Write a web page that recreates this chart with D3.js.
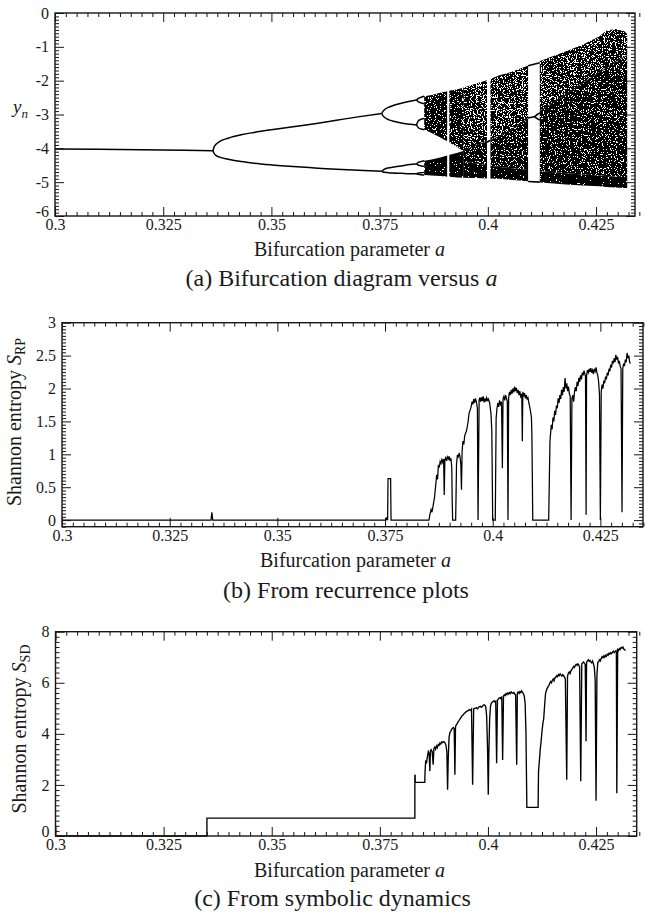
<!DOCTYPE html>
<html><head><meta charset="utf-8">
<script src="https://cdn.jsdelivr.net/npm/d3@7"></script>
<style>
body{margin:0;background:#fff;}
svg text{font-family:"Liberation Serif","Times New Roman",serif;fill:#1a1a1a;}
</style></head><body>
<svg id="chart" width="645" height="913"></svg>
<script>
// ---------------- DATA ----------------
const xTicks = [0.3, 0.325, 0.35, 0.375, 0.4, 0.425];
const xTickLabels = ["0.3", "0.325", "0.35", "0.375", "0.4", "0.425"];
const yTicksA = [0, -1, -2, -3, -4, -5, -6];
const yTickLabelsA = ["0", "-1", "-2", "-3", "-4", "-5", "-6"];
const yTicksB = [0, 0.5, 1, 1.5, 2, 2.5, 3];
const yTickLabelsB = ["0", "0.5", "1", "1.5", "2", "2.5", "3"];
const yTicksC = [0, 2, 4, 6, 8];
const yTickLabelsC = ["0", "2", "4", "6", "8"];

// (a) bifurcation diagram: periodic branches [a, y]
const p1Branch = [[0.300,-4.02],[0.310,-4.03],[0.320,-4.04],[0.330,-4.055],[0.3365,-4.07]];
const p2Upper = [[0.3365,-4.07],[0.3368,-3.95],[0.3372,-3.88],[0.338,-3.80],[0.340,-3.70],[0.343,-3.60],[0.346,-3.53],[0.350,-3.45],[0.355,-3.36],[0.360,-3.27],[0.365,-3.17],[0.370,-3.07],[0.3755,-2.97]];
const p2Lower = [[0.3365,-4.07],[0.3368,-4.16],[0.3372,-4.21],[0.338,-4.26],[0.340,-4.32],[0.343,-4.39],[0.346,-4.44],[0.350,-4.49],[0.355,-4.54],[0.360,-4.58],[0.365,-4.62],[0.370,-4.65],[0.3755,-4.68]];
const p4Branches = [
  [[0.3755,-2.97],[0.3758,-2.90],[0.3762,-2.85],[0.377,-2.79],[0.378,-2.74],[0.380,-2.67],[0.382,-2.61],[0.3835,-2.57]],
  [[0.3755,-2.97],[0.3758,-3.04],[0.3762,-3.09],[0.377,-3.15],[0.378,-3.19],[0.380,-3.25],[0.382,-3.29],[0.3835,-3.31]],
  [[0.3755,-4.68],[0.3758,-4.64],[0.3762,-4.61],[0.377,-4.58],[0.378,-4.56],[0.380,-4.52],[0.382,-4.48],[0.3835,-4.46]],
  [[0.3755,-4.68],[0.3758,-4.70],[0.3762,-4.71],[0.377,-4.72],[0.378,-4.73],[0.380,-4.74],[0.382,-4.75],[0.3835,-4.75]]
];
const p8Branches = [
  [[0.3835,-2.57],[0.3840,-2.52],[0.3846,-2.49],[0.3853,-2.46]],
  [[0.3835,-2.57],[0.3840,-2.63],[0.3846,-2.66],[0.3853,-2.68]],
  [[0.3835,-3.31],[0.3840,-3.18],[0.3846,-3.14],[0.3853,-3.12]],
  [[0.3835,-3.31],[0.3840,-3.40],[0.3846,-3.43],[0.3853,-3.45]],
  [[0.3835,-4.46],[0.3840,-4.41],[0.3846,-4.39],[0.3853,-4.37]],
  [[0.3835,-4.46],[0.3840,-4.50],[0.3846,-4.52],[0.3853,-4.53]],
  [[0.3835,-4.75],[0.3840,-4.73],[0.3846,-4.72],[0.3853,-4.71]],
  [[0.3835,-4.75],[0.3840,-4.77],[0.3846,-4.78],[0.3853,-4.79]]
];
// (a) two chaotic bands before merging
const bandA   = [0.3853, 0.3870, 0.3890, 0.3910, 0.3930, 0.3943];
const upTop   = [-2.46, -2.42, -2.36, -2.30, -2.25, -2.21];
const upBot   = [-3.45, -3.55, -3.68, -3.82, -3.97, -4.08];
const loTop   = [-4.37, -4.33, -4.27, -4.20, -4.13, -4.08];
const loBot   = [-4.79, -4.80, -4.82, -4.84, -4.86, -4.87];
// (a) merged chaotic band
const mergeA  = [0.3943, 0.3975, 0.4000, 0.4027, 0.4050, 0.4080, 0.4104, 0.4145, 0.4181, 0.4220, 0.4258, 0.4274, 0.4295, 0.4315, 0.4322];
const mTop    = [-2.21, -2.08, -1.98, -1.84, -1.76, -1.62, -1.50, -1.30, -1.13, -0.93, -0.69, -0.52, -0.47, -0.53, -0.62];
const mDiag   = [-4.08, -3.90, -3.78, -3.65, -3.48, -3.24, -3.02, -2.70, -2.40, -2.07, -1.75, -1.62, -1.45, -1.30, -1.25];
const mDense  = [-4.40, -4.45, -4.50, -4.55, -4.58, -4.62, -4.66, -4.70, -4.74, -4.77, -4.80, -4.82, -4.84, -4.85, -4.85];
const mBot    = [-4.87, -4.88, -4.89, -4.90, -4.93, -4.96, -4.99, -5.03, -5.07, -5.10, -5.12, -5.14, -5.16, -5.17, -5.17];
// (a) periodic windows
const winStart = [0.3906, 0.3998, 0.4093];
const winEnd   = [0.3911, 0.4006, 0.4120];
const winOrbits = [
  [[0.4093,-1.56],[0.4120,-1.47]],
  [[0.4093,-3.10],[0.4108,-3.06],[0.4114,-3.00],[0.4120,-2.95]],
  [[0.4108,-3.06],[0.4114,-3.12],[0.4120,-3.16]],
  [[0.4093,-4.98],[0.4120,-5.00]],
  [[0.3998,-3.82],[0.4006,-3.76]]
];

// (b) Shannon entropy from recurrence plots [a, S_RP]
const rpSeries = [
[0.3000,0],[0.3346,0],[0.3348,0.12],[0.3350,0],[0.3752,0],[0.3754,0.03],[0.3756,0],[0.3757,0.63],[0.3763,0.63],[0.3764,0],[0.3852,0],
[0.3854,0.08],[0.3857,0.16],[0.3859,0.12],[0.3862,0.23],[0.3865,0.35],[0.3868,0.55],[0.3870,0.69],[0.3872,0.62],[0.3874,0.84],[0.3876,0.80],[0.3878,0.89],[0.3880,0.86],[0.3882,0.92],[0.3884,0.88],[0.3886,0.93],[0.38875,0.38],[0.3889,0.92],[0.3891,0.95],[0.3893,0.90],[0.3895,0.96],[0.3897,0.93],[0.3899,0.97],[0.3901,0.90],[0.3903,0.94],[0.3905,0.80],[0.3906,0.30],[0.3907,0],[0.3914,0],[0.3915,0.40],[0.3916,0.85],[0.3918,0.99],[0.3920,0.95],[0.3922,1.02],[0.3924,0.97],[0.3926,0.85],[0.39275,0.46],[0.3929,1.05],[0.3931,1.20],[0.3933,1.15],[0.3935,1.28],[0.3937,1.32],[0.3939,1.35],[0.3941,1.42],[0.3943,1.50],[0.3945,1.62],[0.3947,1.66],[0.3950,1.72],[0.3952,1.80],[0.3954,1.76],[0.3956,1.84],[0.3958,1.78],[0.3960,1.85],[0.3962,1.80],[0.39645,1.70],[0.3966,0],[0.39685,1.82],[0.3970,1.86],[0.3972,1.80],[0.3974,1.87],[0.3976,1.81],[0.3978,1.88],[0.3980,1.79],[0.3982,1.85],[0.3984,1.80],[0.3986,1.86],[0.3988,1.82],[0.3990,1.84],[0.3993,1.78],[0.3996,1.62],[0.3998,1.35],[0.4000,0],[0.4006,0],[0.4008,1.55],[0.4010,1.70],[0.4012,1.78],[0.4014,1.72],[0.4016,1.82],[0.4018,1.76],[0.40205,1.80],[0.40225,0.79],[0.4024,1.84],[0.4026,1.88],[0.4028,1.82],[0.4030,1.90],[0.4032,1.85],[0.4034,1.80],[0.40355,0],[0.4037,1.86],[0.4039,1.95],[0.4041,1.90],[0.4043,1.98],[0.4045,1.92],[0.4047,2.00],[0.4049,1.94],[0.4051,2.03],[0.4053,1.96],[0.4055,2.01],[0.4057,1.93],[0.4059,1.98],[0.4061,1.90],[0.4063,1.96],[0.4065,1.88],[0.40675,1.92],[0.40688,1.20],[0.4070,1.95],[0.4072,1.88],[0.4074,1.93],[0.4076,1.85],[0.4078,1.90],[0.4080,1.84],[0.4082,1.86],[0.4084,1.78],[0.4086,1.72],[0.4088,1.65],[0.4090,1.55],[0.4091,1.30],[0.4092,0.70],[0.4093,0],[0.4130,0],[0.41315,0.60],[0.4133,1.20],[0.4136,1.45],[0.4138,1.38],[0.4140,1.56],[0.4142,1.50],[0.4144,1.66],[0.4146,1.60],[0.4148,1.74],[0.4150,1.70],[0.4152,1.85],[0.4154,1.78],[0.4156,1.90],[0.4158,1.84],[0.4160,1.98],[0.4162,1.90],[0.4164,2.02],[0.4166,1.95],[0.4168,2.16],[0.4170,2.00],[0.4172,2.08],[0.4174,1.96],[0.4176,2.03],[0.4178,1.92],[0.4180,1.88],[0.4182,0],[0.4184,1.85],[0.4186,1.90],[0.4188,1.80],[0.4190,1.95],[0.4192,2.02],[0.4194,1.96],[0.4196,2.10],[0.4198,2.04],[0.4200,2.16],[0.4202,2.10],[0.4204,2.20],[0.4206,2.14],[0.4208,2.24],[0.4210,2.20],[0.4212,2.27],[0.4214,2.22],[0.42155,2.18],[0.42169,0.08],[0.4218,2.20],[0.4220,2.28],[0.4222,2.24],[0.4224,2.30],[0.4226,2.25],[0.4228,2.31],[0.4230,2.24],[0.4232,2.28],[0.4234,2.22],[0.4236,2.30],[0.4238,2.26],[0.4240,2.32],[0.4242,2.24],[0.4244,2.20],[0.4246,2.10],[0.4248,1.90],[0.4250,0],[0.4252,1.95],[0.4254,2.06],[0.4256,2.00],[0.4258,2.12],[0.4260,2.08],[0.4262,2.18],[0.4264,2.14],[0.4266,2.24],[0.4268,2.20],[0.4270,2.30],[0.4272,2.26],[0.4274,2.36],[0.4276,2.32],[0.4278,2.42],[0.4280,2.38],[0.4282,2.46],[0.4284,2.40],[0.4286,2.51],[0.4288,2.44],[0.4290,2.48],[0.4292,2.38],[0.4294,2.42],[0.4296,2.34],[0.4298,2.30],[0.43003,0.12],[0.4302,2.30],[0.4304,2.38],[0.4306,2.34],[0.4308,2.44],[0.4310,2.40],[0.4312,2.54],[0.4314,2.46],[0.4316,2.50],[0.4318,2.40],[0.4320,2.38]
];

// (c) Shannon entropy from symbolic dynamics [a, S_SD]
const sdSeries = [
[0.3000,0],[0.33502,0],[0.33502,0.70],[0.3831,0.70],[0.3831,2.40],[0.38316,2.38],[0.3832,2.10],[0.3854,2.10],
[0.38545,2.50],[0.3856,2.92],[0.3858,2.88],[0.3860,3.10],[0.3862,3.30],[0.3864,3.22],[0.38657,2.54],[0.3867,3.34],[0.3869,3.38],[0.3871,3.30],[0.38734,2.79],[0.3875,3.42],[0.3877,3.48],[0.3879,3.40],[0.3881,3.52],[0.3883,3.46],[0.3885,3.58],[0.3887,3.55],[0.3889,3.64],[0.3891,3.60],[0.3893,3.68],[0.3895,3.66],[0.3897,3.70],[0.3899,3.68],[0.3901,3.64],[0.3903,3.55],[0.3905,3.30],[0.39067,1.81],[0.3908,2.90],[0.3910,3.85],[0.3912,4.05],[0.3914,4.10],[0.3916,4.18],[0.3918,4.22],[0.3920,4.25],[0.3922,4.20],[0.39236,2.40],[0.3925,4.28],[0.3927,4.36],[0.3929,4.40],[0.3931,4.48],[0.3933,4.52],[0.3935,4.58],[0.3937,4.62],[0.3939,4.68],[0.3941,4.72],[0.3943,4.75],[0.3945,4.80],[0.3947,4.82],[0.3949,4.86],[0.3951,4.88],[0.3953,4.90],[0.3955,4.92],[0.3957,4.95],[0.3960,4.92],[0.3962,4.97],[0.39646,2.01],[0.3967,4.98],[0.3970,5.00],[0.3973,5.02],[0.3976,4.98],[0.3979,5.05],[0.3982,5.08],[0.3985,5.04],[0.3988,5.10],[0.3991,5.14],[0.3993,5.12],[0.3995,5.05],[0.3997,4.70],[0.3999,3.50],[0.40008,1.62],[0.4002,3.20],[0.4004,4.60],[0.4006,5.10],[0.4008,5.20],[0.4010,5.24],[0.4012,5.27],[0.4014,5.30],[0.4016,5.25],[0.4018,5.28],[0.40201,2.85],[0.4022,5.32],[0.4024,5.36],[0.4026,5.40],[0.4028,5.42],[0.4030,5.38],[0.4032,5.46],[0.40340,2.98],[0.4036,5.48],[0.4038,5.53],[0.4040,5.50],[0.4042,5.58],[0.4044,5.54],[0.4046,5.60],[0.4048,5.56],[0.4050,5.62],[0.4052,5.58],[0.4054,5.64],[0.4056,5.60],[0.4058,5.58],[0.4060,5.62],[0.4062,5.56],[0.4064,5.52],[0.40665,2.79],[0.4068,5.60],[0.4070,5.64],[0.4072,5.58],[0.4074,5.66],[0.4076,5.62],[0.4078,5.68],[0.4080,5.62],[0.4082,5.58],[0.4084,5.48],[0.4086,5.20],[0.4088,4.00],[0.4089,2.50],[0.4090,1.12],[0.4116,1.12],[0.4117,2.54],[0.4119,2.95],[0.4121,3.40],[0.4123,3.72],[0.4125,4.10],[0.4127,4.40],[0.4129,4.60],[0.4131,5.10],[0.4133,5.55],[0.4135,5.70],[0.4137,5.78],[0.4139,5.85],[0.4141,5.90],[0.4143,5.98],[0.4145,6.05],[0.4147,6.00],[0.4149,6.10],[0.4151,6.15],[0.4153,6.08],[0.4155,6.20],[0.4157,6.22],[0.4159,6.28],[0.4161,6.24],[0.4163,6.32],[0.4165,6.28],[0.4167,6.35],[0.4169,6.30],[0.4171,6.26],[0.4173,6.32],[0.4175,6.28],[0.4177,6.22],[0.4179,6.15],[0.41822,2.20],[0.4184,6.25],[0.4186,6.38],[0.4188,6.42],[0.4190,6.36],[0.4192,6.48],[0.4194,6.52],[0.4196,6.58],[0.4198,6.64],[0.4200,6.60],[0.4202,6.68],[0.4204,6.72],[0.4206,6.68],[0.4208,6.74],[0.4210,6.70],[0.4212,6.62],[0.42146,2.14],[0.4217,6.74],[0.4219,6.78],[0.4221,6.82],[0.4223,6.76],[0.4225,6.72],[0.42269,3.71],[0.4228,6.80],[0.4230,6.86],[0.4232,6.90],[0.4234,6.84],[0.4236,6.88],[0.4238,6.82],[0.4240,6.78],[0.4242,6.85],[0.4244,6.74],[0.4246,6.60],[0.4248,6.10],[0.4250,1.38],[0.4252,6.30],[0.4254,6.80],[0.4256,6.82],[0.4258,6.90],[0.4260,6.86],[0.4262,6.96],[0.4264,7.02],[0.4266,6.98],[0.4268,7.05],[0.4270,7.00],[0.4272,7.08],[0.4274,7.04],[0.4276,7.12],[0.4278,7.08],[0.4280,7.16],[0.4282,7.12],[0.4284,7.18],[0.4286,7.14],[0.4288,7.20],[0.4290,7.24],[0.4292,7.18],[0.4294,7.22],[0.4296,7.26],[0.4297,7.20],[0.42980,1.67],[0.4300,7.30],[0.4302,7.26],[0.4304,7.34],[0.4306,7.30],[0.4308,7.38],[0.4310,7.36],[0.4312,7.40],[0.4314,7.32],[0.4316,7.30],[0.4318,7.26]
];

// ---------------- DRAWING ----------------
const svg = d3.select("#chart");
const defs = svg.append("defs");
const INK = "#161616";

function speckle(id, zeros, total, freq, seed) {
  const f = defs.append("filter").attr("id", id)
    .attr("x", 0).attr("y", 0).attr("width", 1).attr("height", 1)
    .attr("color-interpolation-filters", "sRGB");
  f.append("feTurbulence").attr("type", "fractalNoise").attr("baseFrequency", freq)
    .attr("numOctaves", 2).attr("seed", seed).attr("result", "n");
  f.append("feColorMatrix").attr("in", "n").attr("type", "matrix")
    .attr("values", "0 0 0 0 0  0 0 0 0 0  0 0 0 0 0  1 0 0 0 0").attr("result", "m");
  const tv = d3.range(total).map(i => i < zeros ? 0 : 1).join(" ");
  f.append("feComponentTransfer").attr("in", "m").attr("result", "t")
    .append("feFuncA").attr("type", "discrete").attr("tableValues", tv);
  f.append("feComposite").attr("in", "t").attr("in2", "SourceGraphic").attr("operator", "in");
}
speckle("spkSparse", 17, 40, 0.85, 4);
speckle("spkMed", 15, 40, 0.85, 9);
speckle("spkDense", 12, 40, 0.85, 13);

function minorTicks(lo, hi, step, majors) {
  const n = Math.round((hi - lo) / step);
  return d3.range(n + 1).map(i => +(lo + i * step).toFixed(6))
    .filter(v => !majors.some(m => Math.abs(m - v) < step / 10));
}

function drawAxes(g, x, y, box, yTicks, yLabels, yMinor, xMinor) {
  const ax = [];
  ax.push(g.append("g").attr("transform", `translate(0,${box.b})`)
    .call(d3.axisBottom(x).tickValues(xTicks).tickSize(-9).tickPadding(3)
      .tickFormat((d, i) => xTickLabels[i])));
  ax.push(g.append("g").attr("transform", `translate(0,${box.b})`)
    .call(d3.axisBottom(x).tickValues(xMinor).tickSize(-4).tickFormat("")));
  ax.push(g.append("g").attr("transform", `translate(0,${box.t})`)
    .call(d3.axisTop(x).tickValues(xTicks).tickSize(-9).tickFormat("")));
  ax.push(g.append("g").attr("transform", `translate(0,${box.t})`)
    .call(d3.axisTop(x).tickValues(xMinor).tickSize(-4).tickFormat("")));
  const left = g.append("g").attr("transform", `translate(${box.l},0)`)
    .call(d3.axisLeft(y).tickValues(yTicks).tickSize(-9).tickPadding(6)
      .tickFormat((d, i) => yLabels[i]));
  ax.push(left);
  ax.push(g.append("g").attr("transform", `translate(${box.l},0)`)
    .call(d3.axisLeft(y).tickValues(yMinor).tickSize(-4).tickFormat("")));
  ax.push(g.append("g").attr("transform", `translate(${box.r},0)`)
    .call(d3.axisRight(y).tickValues(yTicks).tickSize(-9).tickFormat("")));
  ax.push(g.append("g").attr("transform", `translate(${box.r},0)`)
    .call(d3.axisRight(y).tickValues(yMinor).tickSize(-4).tickFormat("")));
  ax.forEach(a => {
    a.select(".domain").remove();
    a.selectAll(".tick line").attr("stroke", INK).attr("stroke-width", 1);
    a.selectAll(".tick text").attr("font-family", "Liberation Serif").attr("font-size", 16).attr("fill", INK);
  });
  // the corner y label sits slightly higher so it clears the first x label
  const yMin = y.domain()[0];
  left.selectAll(".tick text").filter(d => d === yMin).attr("dy", "0em");
  g.append("rect").attr("x", box.l).attr("y", box.t)
    .attr("width", box.r - box.l).attr("height", box.b - box.t)
    .attr("fill", "none").attr("stroke", INK).attr("stroke-width", 1.4);
}

function xLabel(g, cx, by) {
  const t = g.append("text").attr("x", cx).attr("y", by).attr("text-anchor", "middle").attr("font-size", 20);
  t.append("tspan").text("Bifurcation parameter ");
  t.append("tspan").attr("font-style", "italic").text("a");
}
function caption(g, cx, by, txt, ital) {
  const t = g.append("text").attr("x", cx).attr("y", by).attr("text-anchor", "middle").attr("font-size", 24);
  t.append("tspan").text(txt);
  if (ital) t.append("tspan").attr("font-style", "italic").text(ital);
}
function entropyLabel(g, bx, cy, sub) {
  const t = g.append("text").attr("transform", `translate(${bx},${cy}) rotate(-90)`)
    .attr("text-anchor", "middle").attr("font-size", 20);
  t.append("tspan").text("Shannon entropy ");
  t.append("tspan").attr("font-style", "italic").text("S");
  t.append("tspan").attr("font-size", 14).attr("dy", 4).text(sub);
}

// ===== Panel (a) =====
{
  const box = {l: 55, r: 635, t: 13, b: 216};
  const x = d3.scaleLinear().domain([0.3, 0.434]).range([box.l, box.r]);
  const y = d3.scaleLinear().domain([-6, 0]).range([box.b, box.t]);
  const g = svg.append("g");
  defs.append("clipPath").attr("id", "clipA").append("rect")
    .attr("x", box.l).attr("y", box.t).attr("width", box.r - box.l).attr("height", box.b - box.t);
  const d = g.append("g").attr("clip-path", "url(#clipA)");

  const band = (aArr, topArr, botArr) => d3.area()
    .x((v, i) => x(aArr[i])).y0((v, i) => y(botArr[i])).y1((v, i) => y(topArr[i]))(aArr);

  d.append("path").attr("d", band(bandA, upTop, upBot)).attr("fill", "#000").attr("filter", "url(#spkMed)");
  d.append("path").attr("d", band(bandA, loTop, loBot)).attr("fill", "#000").attr("filter", "url(#spkDense)");
  d.append("path").attr("d", band(mergeA, mTop, mDiag)).attr("fill", "#000").attr("filter", "url(#spkSparse)");
  d.append("path").attr("d", band(mergeA, mDiag, mDense)).attr("fill", "#000").attr("filter", "url(#spkMed)");
  d.append("path").attr("d", band(mergeA, mDense, mBot)).attr("fill", "#000").attr("filter", "url(#spkDense)");

  const lineA = d3.line().x(p => x(p[0])).y(p => y(p[1])).curve(d3.curveMonotoneX);
  d.append("path").attr("d", d3.line().x((v, i) => x(mergeA[i])).y((v, i) => y(mDiag[i]))(mergeA))
    .attr("fill", "none").attr("stroke", "#000").attr("stroke-width", 1.4).attr("opacity", 0.5);

  d.selectAll("rect.win").data(winStart).enter().append("rect").attr("class", "win")
    .attr("x", (v, i) => x(v)).attr("width", (v, i) => x(winEnd[i]) - x(v))
    .attr("y", y(-0.2)).attr("height", y(-5.4) - y(-0.2)).attr("fill", "#fff");
  winOrbits.forEach(o => d.append("path").attr("d", lineA(o)).attr("fill", "none")
    .attr("stroke", "#000").attr("stroke-width", 1.6));

  [p1Branch, p2Upper, p2Lower, ...p4Branches, ...p8Branches].forEach(br =>
    d.append("path").attr("d", lineA(br)).attr("fill", "none")
      .attr("stroke", "#000").attr("stroke-width", 1.5));

  drawAxes(g, x, y, box, yTicksA, yTickLabelsA,
    minorTicks(-6, 0, 0.1, yTicksA), minorTicks(0.3, 0.434, 0.0025, xTicks));

  const yl = g.append("text").attr("x", 13).attr("y", 113).attr("font-size", 19).attr("font-style", "italic");
  yl.append("tspan").text("y");
  yl.append("tspan").attr("font-size", 13).attr("dy", 5).text("n");
  xLabel(g, 349.5, 256);
  caption(g, 341.5, 286, "(a) Bifurcation diagram versus ", "a");
}

// ===== Panel (b) =====
{
  const box = {l: 62, r: 643, t: 322.7, b: 526.7};
  const x = d3.scaleLinear().domain([0.3, 0.4349]).range([box.l, box.r]);
  const y = d3.scaleLinear().domain([-0.1, 3]).range([box.b, box.t]);
  const g = svg.append("g");
  g.append("path").datum(rpSeries)
    .attr("d", d3.line().x(p => x(p[0])).y(p => y(p[1])))
    .attr("fill", "none").attr("stroke", "#000").attr("stroke-width", 1.25).attr("stroke-linejoin", "miter");
  drawAxes(g, x, y, box, yTicksB, yTickLabelsB,
    minorTicks(-0.1, 3, 0.05, yTicksB), minorTicks(0.3, 0.4349, 0.0025, xTicks));
  entropyLabel(g, 21, 422, "RP");
  xLabel(g, 355.5, 567);
  caption(g, 346, 598, "(b) From recurrence plots", null);
}

// ===== Panel (c) =====
{
  const box = {l: 55.5, r: 636.7, t: 631.7, b: 836};
  const x = d3.scaleLinear().domain([0.3, 0.4344]).range([box.l, box.r]);
  const y = d3.scaleLinear().domain([0, 8]).range([box.b, box.t]);
  const g = svg.append("g");
  g.append("path").datum(sdSeries)
    .attr("d", d3.line().x(p => x(p[0])).y(p => y(p[1])))
    .attr("fill", "none").attr("stroke", "#000").attr("stroke-width", 1.35);
  drawAxes(g, x, y, box, yTicksC, yTickLabelsC,
    minorTicks(0, 8, 0.2, yTicksC), minorTicks(0.3, 0.4344, 0.0025, xTicks));
  entropyLabel(g, 26, 729, "SD");
  xLabel(g, 349.5, 877);
  caption(g, 332.5, 906, "(c) From symbolic dynamics", null);
}
</script>
</body></html>
